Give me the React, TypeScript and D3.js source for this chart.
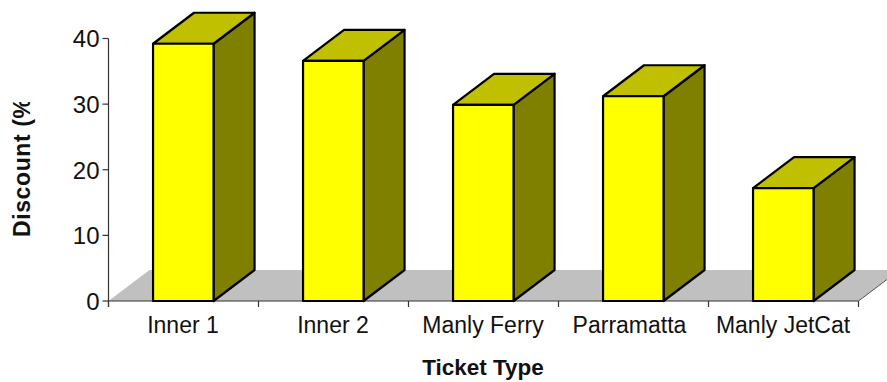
import * as d3 from "d3";

const categories = ["Inner 1", "Inner 2", "Manly Ferry", "Parramatta", "Manly JetCat"];
const discounts = [39.2, 36.6, 29.9, 31.2, 17.2];
const yTicks = [0, 10, 20, 30, 40];

const WIDTH = 887;
const HEIGHT = 382;
const depthX = 41;
const depthY = -31;
const barWidth = 60.5;

const x = d3.scaleBand<string>().domain(categories).range([108.5, 858.5]);
const y = d3.scaleLinear().domain([0, 40]).range([301, 38.5]);
const FONT = "'Liberation Sans', Arial, sans-serif";

const poly = (pts: [number, number][]) => d3.line()(pts) + "Z";

// "Parramatta" sits a little left of its band so it clears its neighbour
const labelShift = (c: string) => (c === "Parramatta" ? -4 : -0.5);

export default function App() {
  const left = x.range()[0];
  const right = x.range()[1];
  const base = y(0);
  const ticksX = [...categories.map((c) => x(c)!), right];
  return (
    <svg
      width={WIDTH}
      height={HEIGHT}
      viewBox={`0 0 ${WIDTH} ${HEIGHT}`}
      style={{ position: "absolute", left: 0, top: 0, background: "#fff" }}
      fontFamily={FONT}
    >
      <defs>
        <clipPath id="y-title-clip">
          <rect x={0} y={102} width={60} height={200} />
        </clipPath>
      </defs>

      {/* chart floor */}
      <path
        d={poly([
          [left, base],
          [right, base],
          [right + depthX, base + depthY],
          [left + depthX, base + depthY],
        ])}
        fill="#c0c0c0"
      />

      {/* value axis */}
      <g stroke="#333" strokeWidth={1.2} fill="none">
        <line x1={left} x2={left} y1={y(40)} y2={base + 6} />
        <line x1={left} x2={right} y1={base} y2={base} />
        {yTicks.map((t) => (
          <line key={t} x1={left - 6} x2={left} y1={y(t)} y2={y(t)} />
        ))}
        {ticksX.map((t, i) => (
          <line key={i} x1={t} x2={t} y1={base} y2={base + 6} />
        ))}
        <line x1={right} x2={right + depthX} y1={base} y2={base + depthY} strokeWidth={0.8} />
      </g>
      {yTicks.map((t) => (
        <text key={t} x={99.5} y={y(t) + 8.8} textAnchor="end" fontSize={24} fill="#111">
          {t}
        </text>
      ))}

      {/* three-sided columns */}
      {categories.map((c, i) => {
        const cx = x(c)! + x.bandwidth() / 2;
        const x0 = cx - barWidth / 2 - 0.2;
        const x1 = x0 + barWidth;
        const top = y(discounts[i]);
        return (
          <g key={c} stroke="#000" strokeWidth={2.2} strokeLinejoin="round">
            <path
              d={poly([
                [x1, top],
                [x1 + depthX, top + depthY],
                [x1 + depthX, base + depthY],
                [x1, base],
              ])}
              fill="#808000"
            />
            <path
              d={poly([
                [x0, top],
                [x0 + depthX, top + depthY],
                [x1 + depthX, top + depthY],
                [x1, top],
              ])}
              fill="#c0c000"
            />
            <rect x={x0} y={top} width={barWidth} height={base - top} fill="#ffff00" />
          </g>
        );
      })}

      {categories.map((c) => (
        <text
          key={c}
          x={x(c)! + x.bandwidth() / 2 + labelShift(c)}
          y={333}
          textAnchor="middle"
          fontSize={23}
          fill="#111"
        >
          {c}
        </text>
      ))}

      <text x={483} y={375} textAnchor="middle" fontSize={22.5} fontWeight="bold" fill="#111">
        Ticket Type
      </text>
      {/* the title's last glyph runs into the edge of its box */}
      <g clipPath="url(#y-title-clip)">
        <text
          transform="translate(29.5,237) rotate(-90)"
          fontSize={23}
          fontWeight="bold"
          fill="#111"
          letterSpacing={0.6}
        >
          Discount (%
        </text>
      </g>
    </svg>
  );
}
